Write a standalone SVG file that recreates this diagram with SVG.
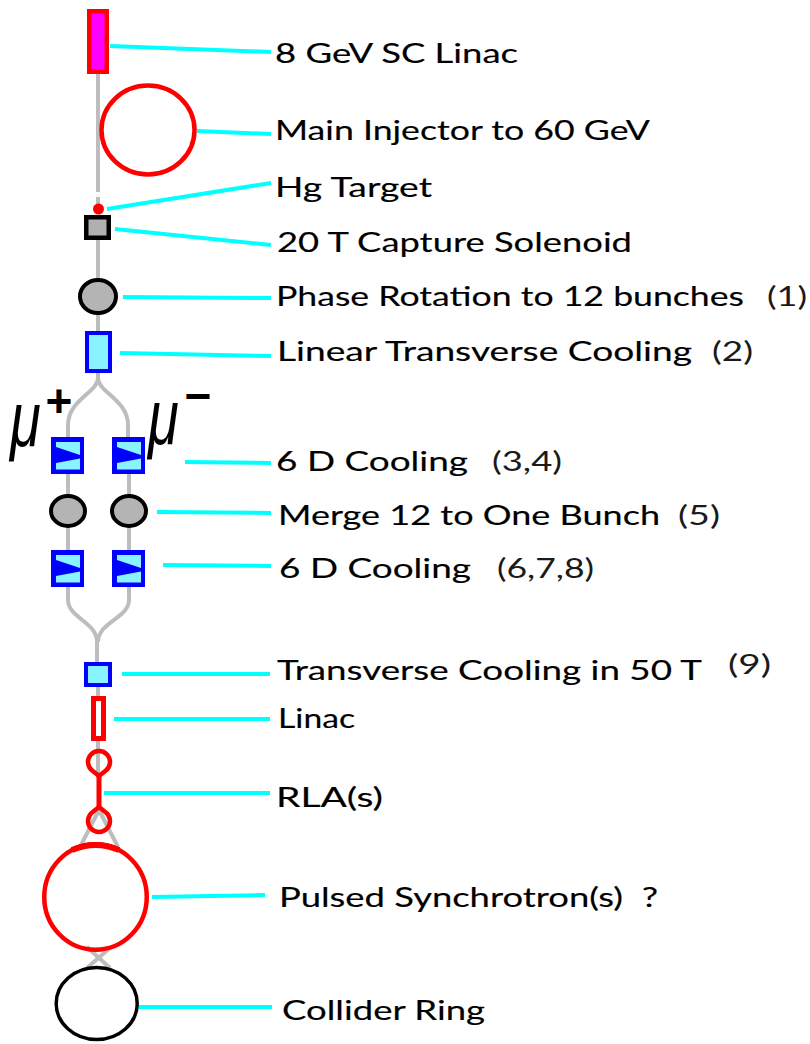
<svg xmlns="http://www.w3.org/2000/svg" width="810" height="1044" viewBox="0 0 810 1044">
<style>
.lbl{font-family:Lato,"Open Sans","Liberation Sans",sans-serif;font-size:27px;fill:#000;stroke:#000;stroke-width:0.15}
.num{font-family:Lato,"Open Sans","Liberation Sans",sans-serif;font-size:27px;fill:#1a1a1a}
.mu{font-family:"Liberation Sans",Arial,sans-serif;font-style:italic;font-size:56px;fill:#000}
.sign{font-family:"Liberation Sans",Arial,sans-serif;font-weight:bold;font-size:46px;fill:#000}
.beam{fill:none;stroke:#bdbdbd;stroke-width:4}
.lead{fill:none;stroke:#00ffff;stroke-width:4}
.red{stroke:#ff0000;stroke-width:4.5}
.blueBox{fill:#88f4ff;stroke:#0000ff;stroke-width:4}
.grayEll{fill:#b4b4b4;stroke:#000;stroke-width:4}
.cool6{fill:#0000ff}
.cyanIn{fill:#88f4ff}
</style>
<defs>
<g id="cool6d">
<rect class="cool6" x="0" y="0" width="33" height="37"/>
<polygon class="cyanIn" points="5,5 29,5 29,18 5,10"/>
<polygon class="cyanIn" points="5,26 29,21.5 29,32.5 5,32.5"/>
</g>
</defs>
<g id="connectors">
<g id="beamline">
<line class="beam" x1="98" y1="74" x2="98" y2="192"/>
<line class="beam" x1="98" y1="197" x2="98" y2="206"/>
<line class="beam" x1="98" y1="240" x2="98" y2="279"/>
<line class="beam" x1="98" y1="314" x2="98" y2="332"/>
<path class="beam" d="M98,372 L98,378 C98,392 68,400 68,425 L68,437"/>
<path class="beam" d="M98,372 L98,378 C98,392 128,400 128,425 L128,437"/>
<line class="beam" x1="68" y1="473" x2="68" y2="495"/>
<line class="beam" x1="129" y1="473" x2="129" y2="495"/>
<line class="beam" x1="68" y1="527" x2="68" y2="551"/>
<line class="beam" x1="129" y1="527" x2="129" y2="551"/>
<path class="beam" d="M68,586 L68,600 C68,618 97,622 97,642 L97,663"/>
<path class="beam" d="M129,586 L129,600 C129,618 98,622 98,642"/>
<line class="beam" x1="98" y1="686" x2="98" y2="697"/>
<line class="beam" x1="98" y1="740" x2="98" y2="778"/>
<line class="beam" x1="99" y1="810" x2="80" y2="847"/>
<line class="beam" x1="99" y1="810" x2="118" y2="847"/>
<line class="beam" x1="87" y1="947" x2="110" y2="968"/>
<line class="beam" x1="111" y1="947" x2="87" y2="968"/>
</g>
<g id="leaders">
<line class="lead" x1="110" y1="46" x2="271" y2="52"/>
<line class="lead" x1="197" y1="131" x2="271" y2="134"/>
<line class="lead" x1="107" y1="209" x2="271" y2="183"/>
<line class="lead" x1="115" y1="229" x2="271" y2="245"/>
<line class="lead" x1="123" y1="297" x2="271" y2="298"/>
<line class="lead" x1="120" y1="353" x2="271" y2="356"/>
<line class="lead" x1="185" y1="462" x2="271" y2="463"/>
<line class="lead" x1="157" y1="512" x2="271" y2="513"/>
<line class="lead" x1="163" y1="565" x2="271" y2="566"/>
<line class="lead" x1="122" y1="674" x2="270" y2="674"/>
<line class="lead" x1="114" y1="719" x2="270" y2="719"/>
<line class="lead" x1="104" y1="793" x2="270" y2="793"/>
<line class="lead" x1="152" y1="897" x2="265" y2="895"/>
<line class="lead" x1="138" y1="1007" x2="272" y2="1007"/>
</g>
</g>

<g id="sc-linac">
<rect x="89.25" y="11.25" width="17.5" height="60.5" fill="#ff00ff" class="red"/>
<text class="lbl" x="275" y="63" textLength="243" lengthAdjust="spacingAndGlyphs">8 GeV SC Linac</text>
</g>
<g id="main-injector">
<ellipse cx="148" cy="130" rx="46.5" ry="44.5" fill="none" class="red"/>
<text class="lbl" x="275" y="140" textLength="375" lengthAdjust="spacingAndGlyphs">Main Injector to 60 GeV</text>
</g>
<g id="hg-target">
<circle cx="98.5" cy="209" r="4.5" fill="#ff0000" stroke="#ff0000" stroke-width="2"/>
<text class="lbl" x="275" y="197" textLength="157" lengthAdjust="spacingAndGlyphs">Hg Target</text>
</g>
<g id="capture-solenoid">
<rect x="86.25" y="217.25" width="22.5" height="20.5" fill="#b0b0b0" stroke="#000" stroke-width="4.5"/>
<text class="lbl" x="277" y="252" textLength="355" lengthAdjust="spacingAndGlyphs">20 T Capture Solenoid</text>
</g>
<g id="phase-rotation">
<ellipse class="grayEll" cx="98" cy="296.5" rx="18" ry="16.5"/>
<text class="lbl" x="276" y="306" textLength="468" lengthAdjust="spacingAndGlyphs">Phase Rotation to 12 bunches</text>
<text class="num" x="767" y="306" textLength="40" lengthAdjust="spacingAndGlyphs">(1)</text>
</g>
<g id="linear-transverse-cooling">
<rect class="blueBox" x="87" y="333" width="23" height="38"/>
<text class="lbl" x="277" y="361" textLength="415" lengthAdjust="spacingAndGlyphs">Linear Transverse Cooling</text>
<text class="num" x="712" y="361" textLength="41" lengthAdjust="spacingAndGlyphs">(2)</text>
</g>
<g id="mu-labels">
<text class="mu" transform="translate(10,446) scale(1,1.4)">μ</text>
<text class="sign" x="59" y="416.5" text-anchor="middle">+</text>
<text class="mu" transform="translate(148,444) scale(1,1.4)">μ</text>
<text class="sign" x="198" y="411.5" text-anchor="middle">−</text>
</g>
<g id="cooling-6d-a">
<use href="#cool6d" x="51" y="437"/>
<use href="#cool6d" x="112" y="437"/>
<text class="lbl" x="276" y="471" textLength="192" lengthAdjust="spacingAndGlyphs">6 D Cooling</text>
<text class="num" x="492" y="471" textLength="70" lengthAdjust="spacingAndGlyphs">(3,4)</text>
</g>
<g id="merge">
<ellipse class="grayEll" cx="68" cy="511" rx="17" ry="15"/>
<ellipse class="grayEll" cx="129" cy="511" rx="17" ry="15"/>
<text class="lbl" x="278" y="525" textLength="382" lengthAdjust="spacingAndGlyphs">Merge 12 to One Bunch</text>
<text class="num" x="678" y="525" textLength="42" lengthAdjust="spacingAndGlyphs">(5)</text>
</g>
<g id="cooling-6d-b">
<use href="#cool6d" x="51" y="550"/>
<use href="#cool6d" x="112" y="550"/>
<text class="lbl" x="279" y="578" textLength="192" lengthAdjust="spacingAndGlyphs">6 D Cooling</text>
<text class="num" x="497" y="578" textLength="97" lengthAdjust="spacingAndGlyphs">(6,7,8)</text>
</g>
<g id="transverse-cooling-50t">
<rect class="blueBox" x="86" y="664" width="24" height="21"/>
<text class="lbl" x="277" y="680" textLength="425" lengthAdjust="spacingAndGlyphs">Transverse Cooling in 50 T</text>
<text class="num" x="728" y="674" textLength="43" lengthAdjust="spacingAndGlyphs">(9)</text>
</g>
<g id="linac">
<rect x="93.5" y="698.5" width="10" height="40" fill="#fff" stroke="#ff0000" stroke-width="5"/>
<text class="lbl" x="278" y="728" textLength="77" lengthAdjust="spacingAndGlyphs">Linac</text>
</g>
<g id="rla">
<path d="M99,776 L92.7,771 A11,11 0 1 1 105.3,771 Z" fill="none" class="red" stroke-linejoin="round"/>
<line x1="99" y1="776" x2="99" y2="807" stroke="#ff0000" stroke-width="5"/>
<path d="M99,807 L105.3,812 A11,11 0 1 1 92.7,812 Z" fill="none" class="red" stroke-linejoin="round"/>
<text class="lbl" x="276" y="807" textLength="107" lengthAdjust="spacingAndGlyphs">RLA(s)</text>
</g>
<g id="pulsed-synchrotron">
<ellipse cx="95.5" cy="897" rx="51.25" ry="52.75" fill="none" class="red"/>
<path d="M72,850 Q95.5,840 119,850" fill="none" stroke="#ff0000" stroke-width="6"/>
<text class="lbl" x="279" y="907" textLength="379" lengthAdjust="spacingAndGlyphs" xml:space="preserve">Pulsed Synchrotron(s)  ?</text>
</g>
<g id="collider-ring">
<ellipse cx="96.7" cy="1003.5" rx="40.5" ry="36" fill="none" stroke="#000" stroke-width="3.5"/>
<text class="lbl" x="282" y="1020" textLength="203" lengthAdjust="spacingAndGlyphs">Collider Ring</text>
</g>
</svg>
